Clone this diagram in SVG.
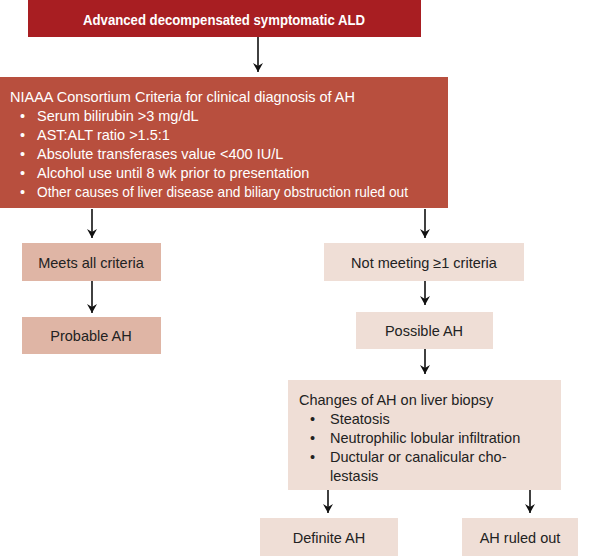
<svg xmlns="http://www.w3.org/2000/svg" width="600" height="556" viewBox="0 0 600 556">
<defs>
<marker id="ah" markerWidth="10" markerHeight="10" refX="9" refY="5" orient="auto" markerUnits="userSpaceOnUse" viewBox="0 0 10 10"><path d="M0,0 L9,5 L0,10 L3,5 Z" fill="#111"/></marker>
<style>
text{font-family:"Liberation Sans",Arial,sans-serif;font-size:14.5px}
.w{fill:#fff}.k{fill:#222}
.c{text-anchor:middle}
.dark{fill:#dfb5a5}.light{fill:#efded6}
line{stroke:#111;stroke-width:1.6;marker-end:url(#ah)}
</style>
</defs>
<rect width="600" height="556" fill="#fff"/>
<g id="n1"><rect x="28" y="0" width="393" height="37" fill="#a81e22"/><text class="w c" x="224" y="25" font-weight="bold" style="font-size:14px" textLength="282" lengthAdjust="spacingAndGlyphs">Advanced decompensated symptomatic ALD</text></g>
<g id="n2"><rect x="0" y="77" width="448" height="131" fill="#b84f3e"/>
<text class="w" x="10" y="102">NIAAA Consortium Criteria for clinical diagnosis of AH</text>
<g class="w"><text x="20" y="121">•</text><text x="20" y="140">•</text><text x="20" y="159">•</text><text x="20" y="178">•</text><text x="20" y="197">•</text></g>
<text class="w" x="37" y="121">Serum bilirubin &gt;3 mg/dL</text>
<text class="w" x="37" y="140">AST:ALT ratio &gt;1.5:1</text>
<text class="w" x="37" y="159">Absolute transferases value &lt;400 IU/L</text>
<text class="w" x="37" y="178">Alcohol use until 8 wk prior to presentation</text>
<text class="w" x="37" y="197" textLength="371" lengthAdjust="spacingAndGlyphs">Other causes of liver disease and biliary obstruction ruled out</text></g>
<g id="n3"><rect class="dark" x="22" y="243" width="139" height="38"/><text class="k c" x="91" y="268">Meets all criteria</text></g>
<g id="n4"><rect class="light" x="324" y="243" width="200" height="38"/><text class="k c" x="424" y="268">Not meeting ≥1 criteria</text></g>
<g id="n5"><rect class="dark" x="22" y="317" width="139" height="37"/><text class="k c" x="91" y="341">Probable AH</text></g>
<g id="n6"><rect class="light" x="356" y="312" width="137" height="37"/><text class="k c" x="424" y="336">Possible AH</text></g>
<g id="n7"><rect class="light" x="288" y="380" width="273" height="110"/>
<text class="k" x="299" y="405">Changes of AH on liver biopsy</text>
<text class="k" x="310" y="424">•</text><text class="k" x="310" y="443">•</text><text class="k" x="310" y="462">•</text>
<text class="k" x="330" y="424">Steatosis</text>
<text class="k" x="330" y="443">Neutrophilic lobular infiltration</text>
<text class="k" x="330" y="462">Ductular or canalicular cho-</text>
<text class="k" x="330" y="481">lestasis</text></g>
<g id="n8"><rect class="light" x="260" y="518" width="138" height="38"/><text class="k c" x="329" y="543">Definite AH</text></g>
<g id="n9"><rect class="light" x="462" y="518" width="116" height="38"/><text class="k c" x="520" y="543">AH ruled out</text></g>
<g id="connectors">
<line x1="258" y1="37" x2="258" y2="72"/>
<line x1="92" y1="209" x2="92" y2="238"/>
<line x1="425" y1="209" x2="425" y2="238"/>
<line x1="92" y1="281" x2="92" y2="313"/>
<line x1="425" y1="281" x2="425" y2="305"/>
<line x1="425" y1="349" x2="425" y2="374"/>
<line x1="328" y1="490" x2="328" y2="513"/>
<line x1="530" y1="490" x2="530" y2="513"/>
</g>
</svg>
